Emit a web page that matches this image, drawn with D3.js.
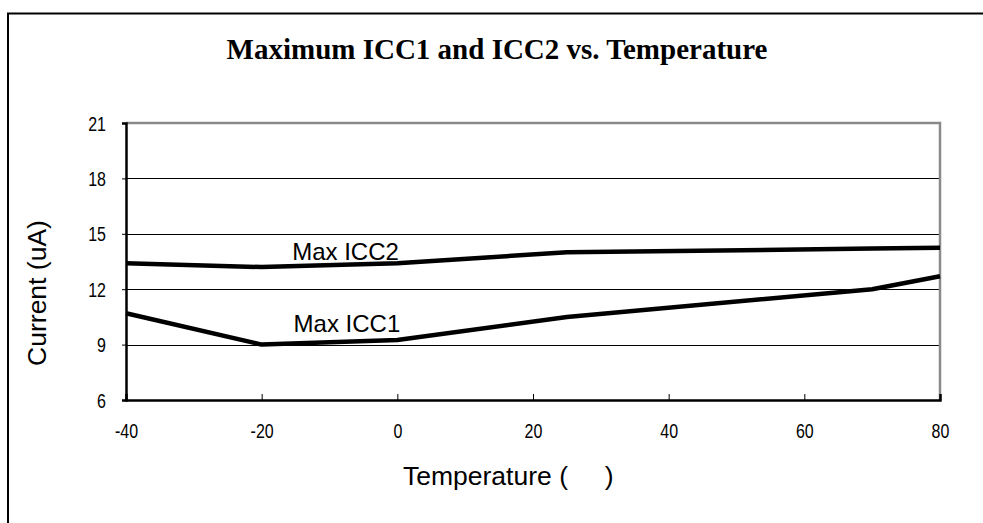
<!DOCTYPE html>
<html>
	<head>
		<meta charset="UTF-8">
		<title>Maximum ICC1 and ICC2 vs. Temperature</title>
		<script type="text/javascript" src="https://cdn.jsdelivr.net/npm/d3@7"></script>
		<style>
			body { margin: 0; background-color: white; }
			text { white-space: pre; }
		</style>
	</head>
	<body>
		<svg id="chart" width="983" height="523"></svg>

		<script type="text/javascript">

			// chart data
			var temperatures = [-40, -20, 0, 25, 70, 80];
			var maxIcc1 = [10.7, 9.0, 9.25, 10.5, 12.0, 12.7];
			var maxIcc2 = [13.4, 13.2, 13.4, 14.0, 14.2, 14.25];

			var xTicks = [-40, -20, 0, 20, 40, 60, 80];
			var yTicks = [6, 9, 12, 15, 18, 21];

			var seriesNames = ["Max ICC1", "Max ICC2"];
			var labelTemps = [-15.3, -15.5];
			var labelValues = [9.68, 13.58];

			var svg = d3.select("#chart");

			var x = d3.scaleLinear().domain([-40, 80]).range([126, 940]);
			var y = d3.scaleLinear().domain([6, 21]).range([400, 123]);

			// the tick labels in the original are a narrow face
			var narrow = 0.82;

			// outer frame (runs off the right and bottom of the page)
			svg.append("rect")
				.attr("x", 8)
				.attr("y", 13.5)
				.attr("width", 1000)
				.attr("height", 600)
				.attr("fill", "white")
				.attr("stroke", "black")
				.attr("stroke-width", 2);

			// title
			svg.append("text")
				.text("Maximum ICC1 and ICC2 vs. Temperature")
				.attr("x", 497)
				.attr("y", 59)
				.attr("text-anchor", "middle")
				.style("font-family", "'Liberation Serif', 'Times New Roman', serif")
				.style("font-weight", "bold")
				.style("font-size", "29px");

			// grid lines
			svg.append("g")
				.selectAll("line")
				.data(yTicks.slice(1, -1))
				.join("line")
				.attr("x1", x(-40))
				.attr("x2", x(80))
				.attr("y1", function (d) { return Math.round(y(d)) + 0.5; })
				.attr("y2", function (d) { return Math.round(y(d)) + 0.5; })
				.attr("stroke", "black")
				.attr("stroke-width", 1);

			// plot frame: grey top and right, black axes
			svg.append("path")
				.attr("d", "M" + x(-40) + "," + y(21) + "H" + x(80) + "V" + y(6))
				.attr("fill", "none")
				.attr("stroke", "#8a8a8a")
				.attr("stroke-width", 2.5);

			var xAxis = d3.axisBottom(x)
				.tickValues(xTicks)
				.tickSize(-6)
				.tickPadding(24)
				.tickFormat(String);

			var gx = svg.append("g")
				.attr("transform", "translate(0," + y(6) + ")")
				.call(xAxis);

			var yAxis = d3.axisLeft(y)
				.tickValues(yTicks)
				.tickSize(4)
				.tickPadding(16)
				.tickFormat(String);

			var gy = svg.append("g")
				.attr("transform", "translate(" + x(-40) + ",0)")
				.call(yAxis);

			[gx, gy].forEach(function (g) {
				g.select(".domain").attr("stroke", "black").attr("stroke-width", 2.5);
				g.selectAll(".tick line").attr("stroke", "black").attr("stroke-width", 1);
				g.selectAll(".tick text")
					.attr("fill", "black")
					.attr("transform", "scale(" + narrow + ",1)")
					.style("font-family", "'Liberation Sans', Arial, sans-serif")
					.style("font-size", "19.5px");
			});
			gy.selectAll(".tick text")
				.attr("x", -20 / narrow)
				.attr("dy", "0.36em");

			// the two curves
			var line = d3.line()
				.x(function (d) { return x(d[0]); })
				.y(function (d) { return y(d[1]); });

			[maxIcc1, maxIcc2].forEach(function (values) {
				svg.append("path")
					.datum(d3.zip(temperatures, values))
					.attr("d", line)
					.attr("fill", "none")
					.attr("stroke", "black")
					.attr("stroke-width", 4.5)
					.attr("stroke-linejoin", "round");
				return;
			});

			// series labels
			seriesNames.forEach(function (name, i) {
				svg.append("text")
					.text(name)
					.attr("x", x(labelTemps[i]))
					.attr("y", y(labelValues[i]))
					.style("font-family", "'Liberation Sans', Arial, sans-serif")
					.style("font-size", "24px");
				return;
			});

			// axis titles
			svg.append("text")
				.text("Current (uA)")
				.attr("transform", "translate(46,293) rotate(-90)")
				.attr("text-anchor", "middle")
				.style("font-family", "'Liberation Sans', Arial, sans-serif")
				.style("font-size", "26.5px");

			svg.append("text")
				.text("Temperature (     )")
				.attr("x", 403)
				.attr("y", 485)
				.style("font-family", "'Liberation Sans', Arial, sans-serif")
				.style("font-size", "26.5px");

		</script>
	</body>
</html>
